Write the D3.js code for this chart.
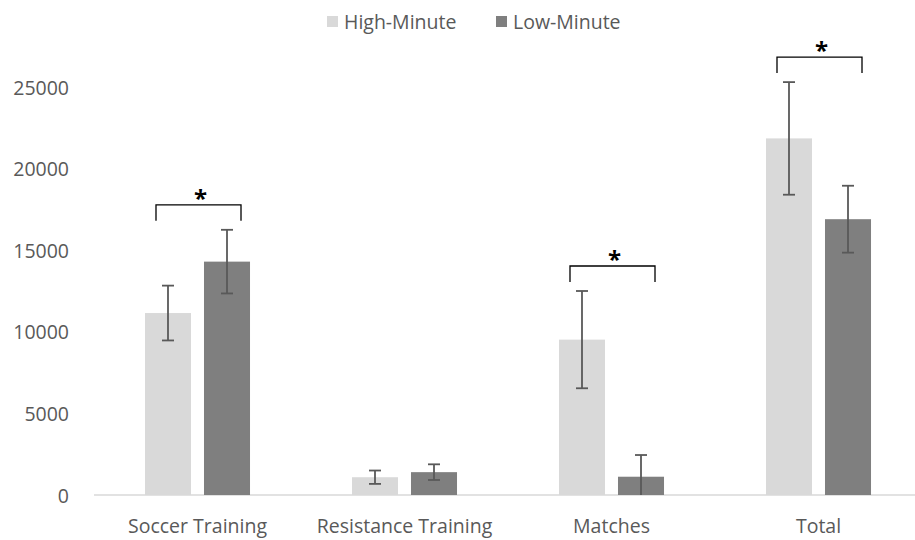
<!DOCTYPE html>
<html>
<head>
<meta charset="utf-8">
<script src="https://cdn.jsdelivr.net/npm/d3@7"></script>
<style>
  body { margin: 0; background: #fff; }
  text { font-family: "Open Sans", sans-serif; }
</style>
</head>
<body>
<div id="chart"></div>
<script>
"use strict";

const categories = ['Soccer Training', 'Resistance Training', 'Matches', 'Total']
const series = ['High-Minute', 'Low-Minute']
const highMean = [11150, 1090, 9520, 21850]
const highErr = [1680, 410, 2980, 3450]
const lowMean = [14300, 1400, 1120, 16900]
const lowErr = [1950, 480, 1330, 2050]
const significant = ['Soccer Training', 'Matches', 'Total']
const yTicks = [0, 5000, 10000, 15000, 20000, 25000]

const d = {
  WIDTH: 915,
  HEIGHT: 540,
  LEFT: 94,
  RIGHT: 922,
  TOP: 87,
  BOTTOM: 495,
  FONT: '19.5px',
}

const colors = { 'High-Minute': '#d9d9d9', 'Low-Minute': '#7f7f7f' }

const svg = d3.select('#chart')
  .append('svg')
    .attr('width', d.WIDTH)
    .attr('height', d.HEIGHT)

const x0 = d3.scaleBand()
  .domain(categories)
  .range([d.LEFT, d.RIGHT])

const x1 = d3.scaleBand()
  .domain(series)
  .range([0, x0.bandwidth()])
  .paddingOuter(0.864)
  .paddingInner(0.22)

const y = d3.scaleLinear()
  .domain([0, 25000])
  .range([d.BOTTOM, d.TOP])

const rows = categories.map((c, i) => ({
  category: c,
  bars: [
    { series: series[0], mean: highMean[i], err: highErr[i] },
    { series: series[1], mean: lowMean[i], err: lowErr[i] },
  ]
}))

// y axis labels only, no line
const yAxis = svg.append('g')
  .attr('transform', `translate(${d.LEFT - 22},0)`)
  .call(d3.axisLeft(y).tickValues(yTicks).tickSize(0).tickFormat(d3.format('d')))

yAxis.select('.domain').remove()
yAxis.selectAll('text')
  .attr('fill', '#595959')
  .attr('dy', '0.36em')
  .style('font-size', d.FONT)
  .style('font-family', '"Open Sans", sans-serif')

// baseline
svg.append('line')
  .attr('x1', d.LEFT)
  .attr('x2', d.WIDTH)
  .attr('y1', y(0))
  .attr('y2', y(0))
  .attr('stroke', '#d9d9d9')
  .attr('stroke-width', 1.5)

const groups = svg.append('g')
  .selectAll('g')
  .data(rows)
  .join('g')
    .attr('transform', r => `translate(${x0(r.category)},0)`)

groups.selectAll('rect')
  .data(r => r.bars)
  .join('rect')
    .attr('x', b => x1(b.series))
    .attr('y', b => y(b.mean))
    .attr('width', x1.bandwidth())
    .attr('height', b => y(0) - y(b.mean))
    .attr('fill', b => colors[b.series])

// error bars
const errG = groups.selectAll('g.err')
  .data(r => r.bars)
  .join('g')
    .attr('class', 'err')
    .attr('stroke', '#595959')
    .attr('stroke-width', 1.8)

const cx = b => x1(b.series) + x1.bandwidth() / 2
const lo = b => y(Math.max(0, b.mean - b.err))
const hi = b => y(b.mean + b.err)

errG.append('line')
  .attr('x1', cx).attr('x2', cx)
  .attr('y1', lo).attr('y2', hi)

errG.append('line')
  .attr('x1', b => cx(b) - 6).attr('x2', b => cx(b) + 6)
  .attr('y1', hi).attr('y2', hi)

errG.filter(b => b.mean - b.err > 0)
  .append('line')
  .attr('x1', b => cx(b) - 6).attr('x2', b => cx(b) + 6)
  .attr('y1', lo).attr('y2', lo)

// significance brackets
const sig = groups.filter(r => significant.includes(r.category))

sig.append('path')
  .attr('fill', 'none')
  .attr('stroke', '#000')
  .attr('stroke-width', 1.3)
  .attr('d', r => {
    const top = d3.min(r.bars, hi) - 25
    const xa = cx(r.bars[0]) - 12
    const xb = cx(r.bars[1]) + 14
    return `M${xa},${top + 16}V${top}H${xb}V${top + 16}`
  })

sig.append('text')
  .attr('x', r => (cx(r.bars[0]) + cx(r.bars[1])) / 2 + 3)
  .attr('y', r => d3.min(r.bars, hi) - 25 + 2)
  .attr('text-anchor', 'middle')
  .attr('fill', '#000')
  .style('font-size', '24px')
  .style('font-weight', 'bold')
  .text('*')

// category labels
svg.append('g')
  .selectAll('text')
  .data(categories)
  .join('text')
    .attr('x', c => x0(c) + x0.bandwidth() / 2)
    .attr('y', 533)
    .attr('text-anchor', 'middle')
    .attr('fill', '#595959')
    .style('font-size', d.FONT)
    .text(c => c)

// legend
const legend = svg.append('g')
  .selectAll('g')
  .data(series)
  .join('g')
    .attr('transform', (s, i) => `translate(${i ? 496 : 327},0)`)

legend.append('rect')
  .attr('x', 0)
  .attr('y', 16)
  .attr('width', 11)
  .attr('height', 11)
  .attr('fill', s => colors[s])

legend.append('text')
  .attr('x', 17)
  .attr('y', 29)
  .attr('fill', '#595959')
  .style('font-size', d.FONT)
  .text(s => s)
</script>
</body>
</html>
